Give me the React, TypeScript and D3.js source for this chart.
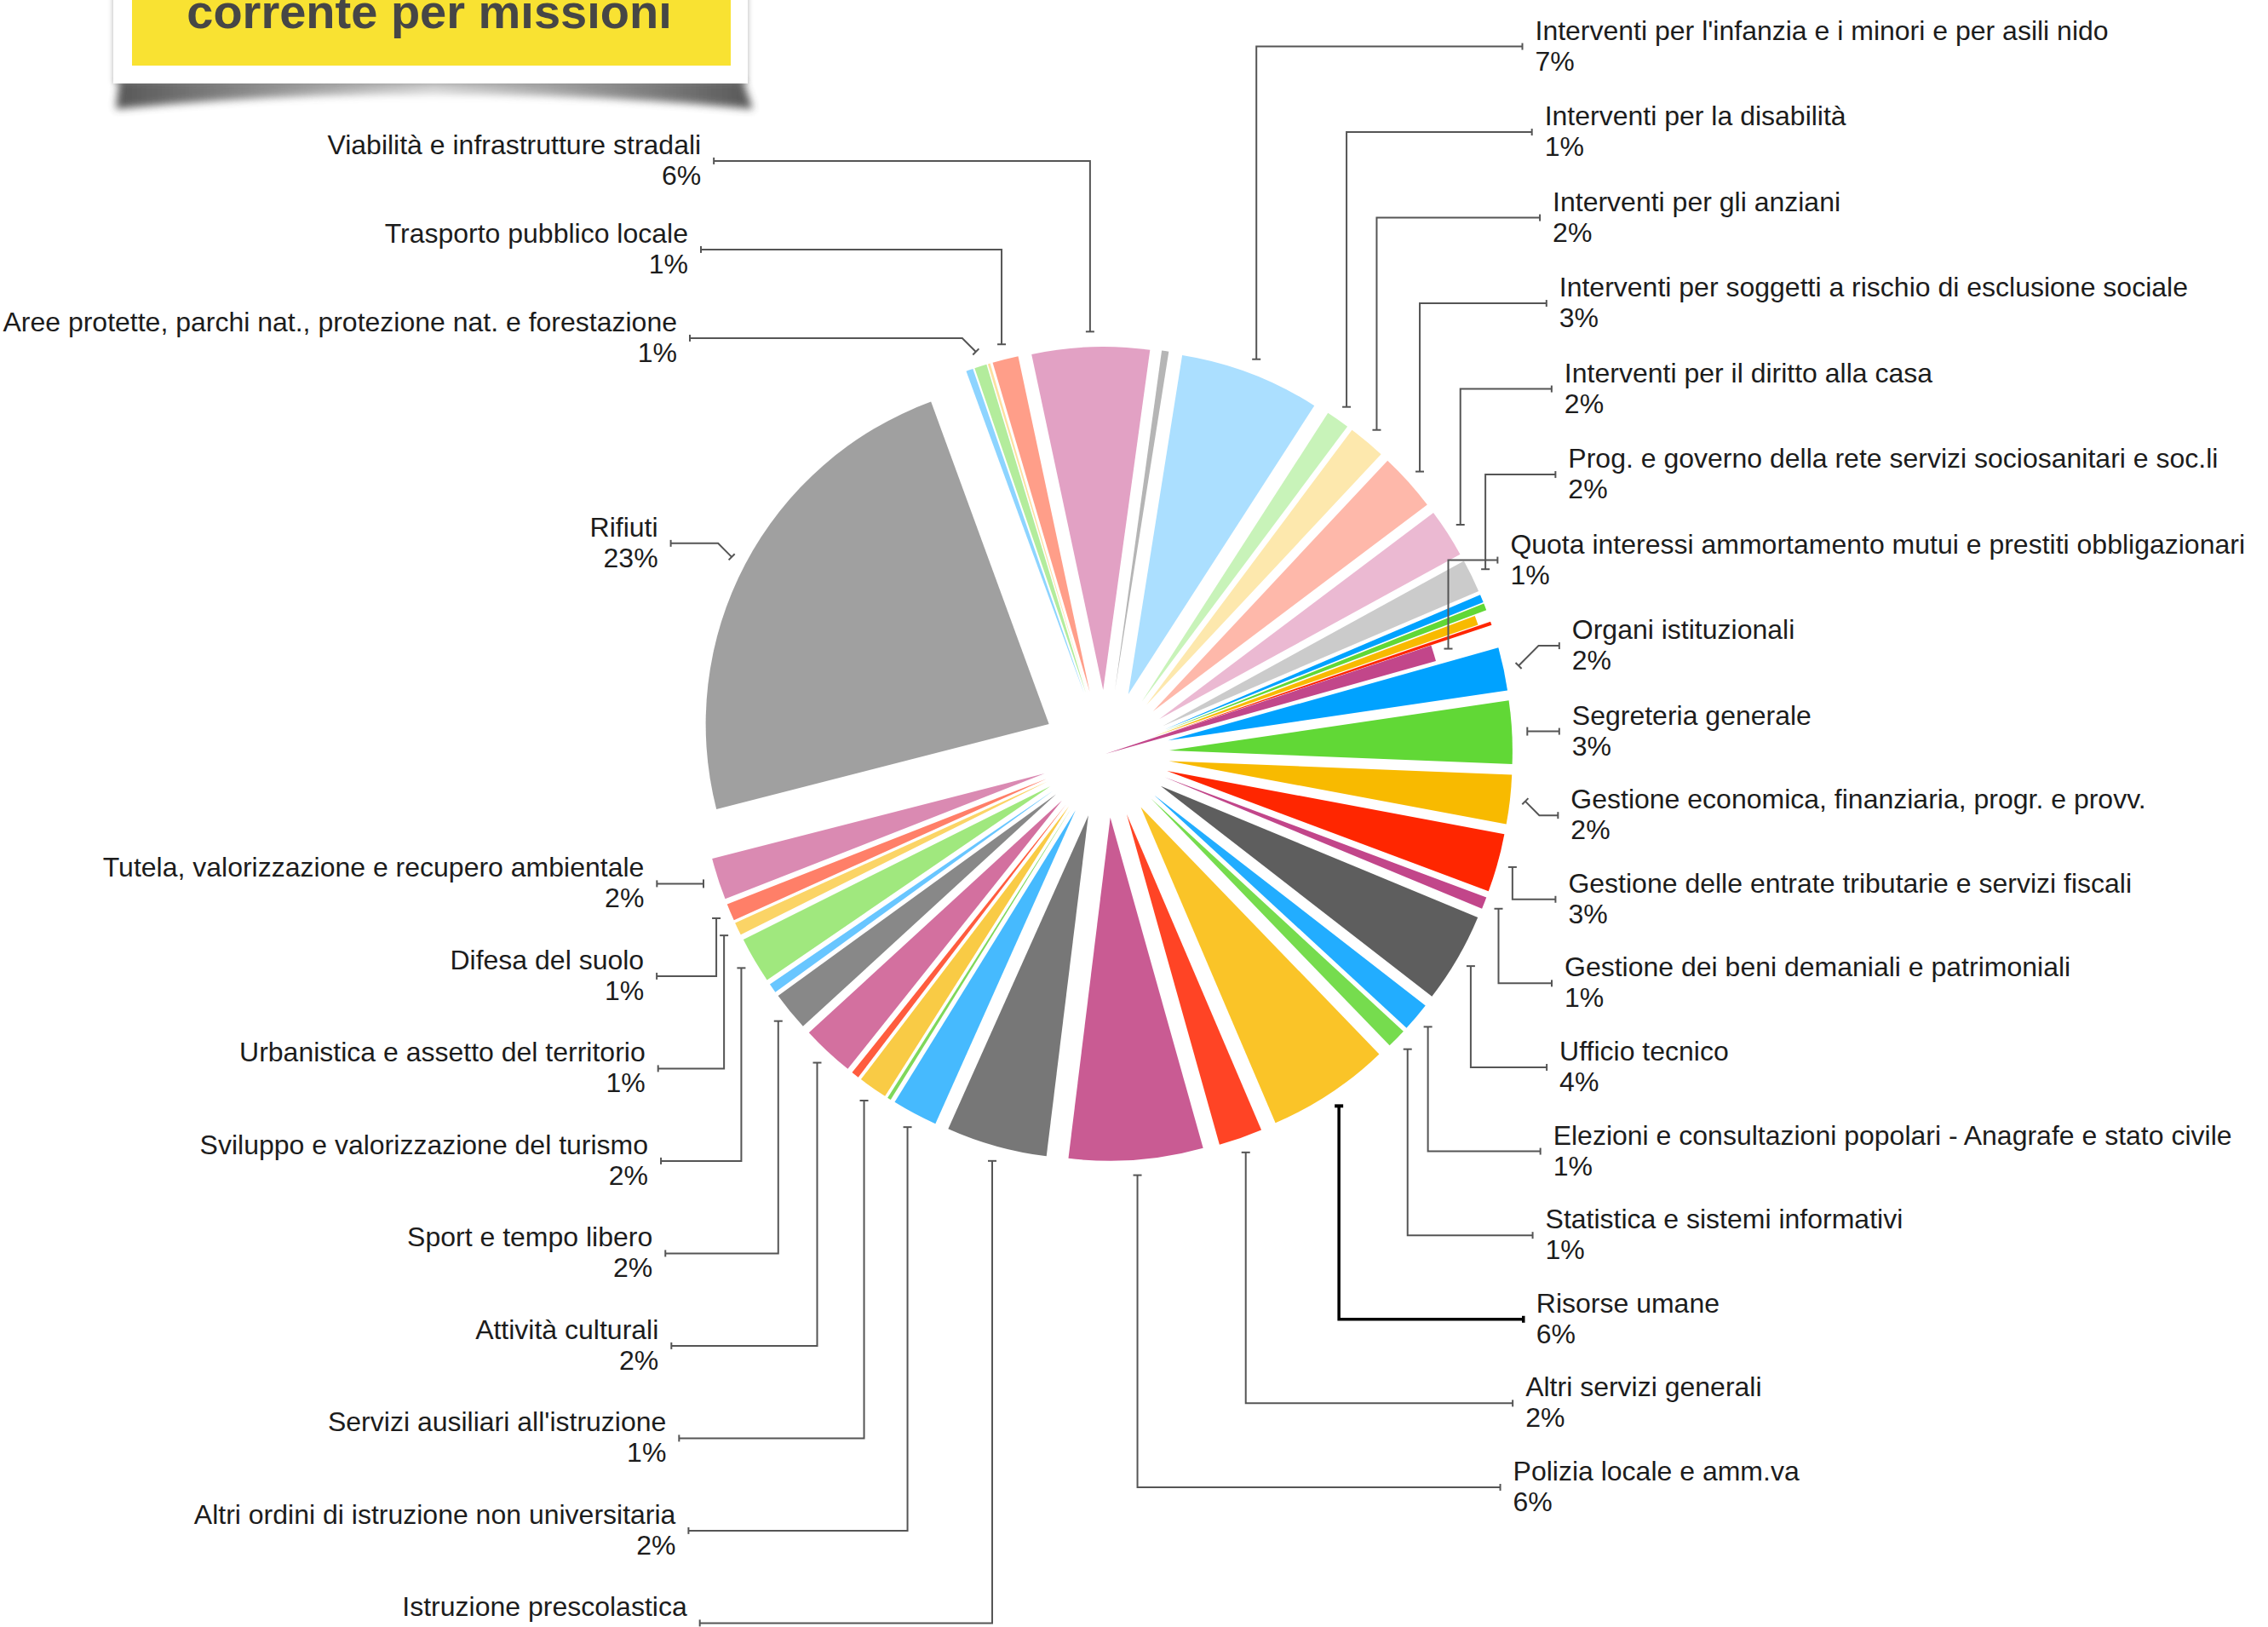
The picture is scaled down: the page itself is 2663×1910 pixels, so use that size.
import React, { useMemo } from "react";
import * as d3 from "d3";

// Spending categories in clockwise order, starting from "Organi istituzionali".
const categories: string[] = [
  "Organi istituzionali",
  "Segreteria generale",
  "Gestione economica, finanziaria, progr. e provv.",
  "Gestione delle entrate tributarie e servizi fiscali",
  "Gestione dei beni demaniali e patrimoniali",
  "Ufficio tecnico",
  "Elezioni e consultazioni popolari - Anagrafe e stato civile",
  "Statistica e sistemi informativi",
  "Risorse umane",
  "Altri servizi generali",
  "Polizia locale e amm.va",
  "Istruzione prescolastica",
  "Altri ordini di istruzione non universitaria",
  "Istruzione tecnica superiore",
  "Servizi ausiliari all'istruzione",
  "Diritto allo studio",
  "Attività culturali",
  "Sport e tempo libero",
  "Giovani",
  "Sviluppo e valorizzazione del turismo",
  "Urbanistica e assetto del territorio",
  "Difesa del suolo",
  "Tutela, valorizzazione e recupero ambientale",
  "Rifiuti",
  "Servizio idrico integrato",
  "Aree protette, parchi nat., protezione nat. e forestazione",
  "Qualità dell'aria e riduzione dell'inquinamento",
  "Trasporto pubblico locale",
  "Viabilità e infrastrutture stradali",
  "Sistema di protezione civile",
  "Interventi per l'infanzia e i minori e per asili nido",
  "Interventi per la disabilità",
  "Interventi per gli anziani",
  "Interventi per soggetti a rischio di esclusione sociale",
  "Interventi per il diritto alla casa",
  "Prog. e governo della rete servizi sociosanitari e soc.li",
  "Cooperazione e associazionismo",
  "Servizio necroscopico e cimiteriale",
  "Commercio - reti distributive - tutela dei consumatori",
  "Sviluppo del settore agricolo",
  "Quota interessi ammortamento mutui e prestiti obbligazionari",
];

// Share of current spending, in percent.
const values: number[] = [
  2.03, 2.97, 2.31, 2.75, 0.56, 4.25, 1.36, 0.92, 5.81, 2.06, 6.31,
  4.75, 2.14, 0.17, 1.36, 0.36, 2.47, 1.83, 0.44, 2.17, 0.61, 0.81,
  1.97, 23.42, 0.33, 0.58, 0.11, 1.22, 5.53, 0.33, 6.61, 1.1, 1.76,
  2.76, 2.29, 1.56, 0.38, 0.32, 0.44, 0.17, 0.75,
];

const titleText = "corrente per missioni";

// Six hues, six shades each; slices cycle through them in order.
const palette: string[] = [
  "#00a2ff", "#61d836", "#f8ba00", "#ff2600", "#c2468a", "#5e5e5e",
  "#22adff", "#76dc4e", "#fac428", "#ff4425", "#c95b93", "#777777",
  "#46bafe", "#7fd85a", "#f9cb45", "#ff5c3e", "#d3709f", "#888888",
  "#68c6ff", "#a0e87e", "#fbd466", "#ff7f68", "#da8ab2", "#a0a0a0",
  "#8dd4ff", "#b3ec9c", "#fde0a0", "#ff9e89", "#e2a1c4", "#b5b5b5",
  "#abdfff", "#c8f3b9", "#fde8ad", "#feb8aa", "#ebb9d2", "#cbcbcb",
];

const W = 2663;
const H = 1910;
const CX = 1298;
const CY = 885;
const RADIUS = 403;
const PULL = 75;
const LEADER_OUT = 18;
const START_DEG = 74.3;
const LABEL_MIN_SHARE = 0.005;
const FONT = "'Liberation Sans', Arial, Helvetica, sans-serif";
const LABEL_SIZE = 32;
const RIGHT_LIMIT = 2636;
const TEXT_GAP = 15;

// Slices that are pulled out by a different amount than the rest.
const pullOverrides = new Map<string, number>([
  ["Quota interessi ammortamento mutui e prestiti obbligazionari", 0],
  ["Commercio - reti distributive - tutela dei consumatori", 60],
]);
const boldLeaders = new Set<string>(["Risorse umane"]);

let measureCtx: CanvasRenderingContext2D | null = null;
function textWidth(s: string): number {
  if (!measureCtx) measureCtx = document.createElement("canvas").getContext("2d");
  if (!measureCtx) return s.length * LABEL_SIZE * 0.5;
  measureCtx.font = `${LABEL_SIZE}px ${FONT}`;
  return measureCtx.measureText(s).width;
}

type Slice = {
  i: number;
  path: string;
  tx: number;
  ty: number;
  ax: number;
  ay: number;
  share: number;
  side: number;
  ly: number;
};

// Stack one column of labels: the upper half is pushed upwards from the
// middle, the lower half downwards, each keeping a minimum spacing.
function stack(list: Slice[], upperGap: number, lowerGap: number, upperLift: number) {
  const sorted = [...list].sort((a, b) => a.ay - b.ay);
  const upper = sorted.filter((d) => d.ay < CY);
  const lower = sorted.filter((d) => d.ay >= CY);
  for (let k = upper.length - 1; k >= 0; k--) {
    const d = upper[k];
    const want = d.ay - upperLift;
    d.ly = k === upper.length - 1 ? want : Math.min(want, upper[k + 1].ly - upperGap);
  }
  let prev = upper.length ? upper[upper.length - 1].ly : -Infinity;
  for (const d of lower) {
    d.ly = Math.max(d.ay, prev + lowerGap);
    prev = d.ly;
  }
}

export default function App() {
  const model = useMemo(() => {
    const total = d3.sum(values);
    const start = (START_DEG * Math.PI) / 180;
    const pie = d3
      .pie<number>()
      .sort(null)
      .value((d) => d)
      .startAngle(start)
      .endAngle(start + 2 * Math.PI);
    const arcGen = d3
      .arc<d3.PieArcDatum<number>>()
      .innerRadius(0)
      .outerRadius(RADIUS);

    const slices: Slice[] = pie(values).map((a, i) => {
      const mid = (a.startAngle + a.endAngle) / 2;
      const pull = pullOverrides.has(categories[i]) ? (pullOverrides.get(categories[i]) as number) : PULL;
      const rr = RADIUS + pull + LEADER_OUT;
      return {
        i,
        path: arcGen(a) || "",
        tx: pull * Math.sin(mid),
        ty: -pull * Math.cos(mid),
        ax: CX + rr * Math.sin(mid),
        ay: CY - rr * Math.cos(mid),
        share: a.value / total,
        side: Math.sin(mid) >= 0 ? 1 : -1,
        ly: 0,
      };
    });

    const labelled = slices.filter((s) => s.share >= LABEL_MIN_SHARE);
    stack(labelled.filter((s) => s.side > 0), 100.5, 98.6, 0);
    stack(labelled.filter((s) => s.side < 0), 104, 108.5, 16);

    const fmt = d3.format(".0%");
    const line = d3.line();

    const labels = labelled.map((s) => {
      const name = categories[s.i];
      const pct = fmt(s.share);
      const w = Math.max(textWidth(name), textWidth(pct));
      let x: number;
      if (s.side > 0) {
        x = CX + 548 * Math.sqrt(Math.max(0, 1 - ((s.ly - 807) / 1927) ** 2));
        x = Math.min(x, RIGHT_LIMIT - w);
      } else {
        x = CX - 542 * Math.sqrt(Math.max(0, 1 - ((s.ly - 1104) / 1898) ** 2));
      }
      const ex = x - s.side * TEXT_GAP;
      const dy = s.ay - s.ly;
      let pts: [number, number][];
      if (Math.abs(dy) <= 34) {
        let bx = s.ax + s.side * Math.abs(dy);
        if (s.side > 0) bx = Math.min(bx, ex);
        else bx = Math.max(bx, ex);
        pts = [[ex, s.ly], [bx, s.ly], [s.ax, s.ay]];
      } else {
        pts = [[ex, s.ly], [s.ax, s.ly], [s.ax, s.ay]];
      }
      // cap at the slice end, perpendicular to the final segment
      let [px, py] = pts[1];
      if (Math.hypot(s.ax - px, s.ay - py) < 1) [px, py] = pts[0];
      const len = Math.hypot(s.ax - px, s.ay - py) || 1;
      const ux = (s.ax - px) / len;
      const uy = (s.ay - py) / len;
      const capA: [number, number][] = [
        [s.ax - uy * 5, s.ay + ux * 5],
        [s.ax + uy * 5, s.ay - ux * 5],
      ];
      const capT: [number, number][] = [
        [ex, s.ly - 4],
        [ex, s.ly + 4],
      ];
      return {
        key: s.i,
        name,
        pct,
        x,
        y: s.ly,
        anchor: s.side > 0 ? "start" : "end",
        leader: line(pts) || "",
        capA: line(capA) || "",
        capT: line(capT) || "",
        bold: boldLeaders.has(name),
      };
    });

    return { slices, labels };
  }, []);

  return (
    <svg
      width={W}
      height={H}
      viewBox={`0 0 ${W} ${H}`}
      style={{ position: "absolute", left: 0, top: 0, background: "#fff" }}
      fontFamily={FONT}
    >
      <defs>
        <filter id="shadowBlur" x="-10%" y="-100%" width="120%" height="300%">
          <feGaussianBlur stdDeviation="5" />
        </filter>
        <filter id="cardEdge" x="-5%" y="-5%" width="110%" height="110%">
          <feDropShadow dx="0" dy="0" stdDeviation="3" floodColor="#000" floodOpacity="0.3" />
        </filter>
        <linearGradient id="shadowShade" x1="0" x2="1" y1="0" y2="0">
          <stop offset="0" stopColor="#3a3a3a" />
          <stop offset="0.5" stopColor="#c8c8c8" />
          <stop offset="1" stopColor="#3a3a3a" />
        </linearGradient>
      </defs>
      <rect x={0} y={0} width={W} height={H} fill="#fff" />

      <g transform={`translate(${CX},${CY})`}>
        {model.slices.map((s) => (
          <path
            key={s.i}
            d={s.path}
            transform={`translate(${s.tx},${s.ty})`}
            fill={palette[s.i % palette.length]}
          />
        ))}
      </g>

      <g fill="none" strokeLinecap="butt">
        {model.labels.map((l) => (
          <g key={l.key} stroke={l.bold ? "#000" : "#555"} strokeWidth={l.bold ? 3.5 : 2}>
            <path d={l.leader} />
            <path d={l.capA} strokeWidth={l.bold ? 4 : 2} />
            <path d={l.capT} />
          </g>
        ))}
      </g>

      <g fontSize={LABEL_SIZE} fill="#1c1c1c">
        {model.labels.map((l) => (
          <text key={l.key} x={l.x} textAnchor={l.anchor}>
            <tspan x={l.x} y={l.y - 8}>{l.name}</tspan>
            <tspan x={l.x} y={l.y + 28}>{l.pct}</tspan>
          </text>
        ))}
      </g>

      <g>
        <path
          d="M140,94 L872,94 L884,128 Q505,92 136,128 Z"
          fill="url(#shadowShade)"
          opacity={0.85}
          filter="url(#shadowBlur)"
        />
        <rect x={133} y={-300} width={745} height={398} fill="#fff" filter="url(#cardEdge)" />
        <rect x={155} y={-300} width={703} height={377} fill="#f9e232" />
        <text
          x={504}
          y={33}
          textAnchor="middle"
          fontSize={56}
          fontWeight="bold"
          fill="#464646"
        >
          {titleText}
        </text>
      </g>
    </svg>
  );
}
